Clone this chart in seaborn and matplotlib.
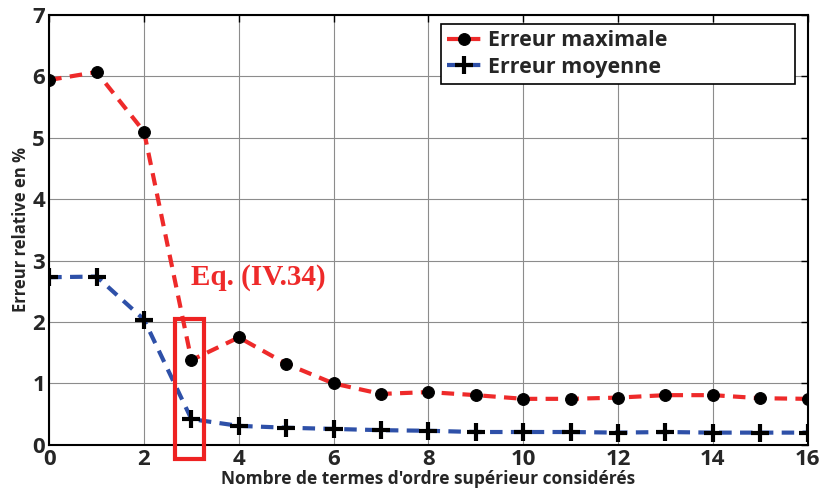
import matplotlib
matplotlib.use("Agg")
import matplotlib.pyplot as plt
import seaborn as sns
from matplotlib.patches import Rectangle

# Data
n_terms = list(range(17))
err_max = [5.94, 6.07, 5.10, 1.38, 1.75, 1.32, 1.00, 0.83, 0.86, 0.81,
           0.75, 0.75, 0.77, 0.81, 0.81, 0.76, 0.75]
err_moy = [2.73, 2.74, 2.04, 0.42, 0.31, 0.28, 0.26, 0.24, 0.23, 0.21,
           0.21, 0.21, 0.20, 0.21, 0.20, 0.20, 0.20]

sns.set_style("whitegrid")
plt.rcParams['font.family'] = ['Open Sans', 'DejaVu Sans']

fig = plt.figure(figsize=(8.2, 4.96), dpi=100)
ax = fig.add_axes([0.06, 0.103, 0.925, 0.867])

sns.lineplot(x=n_terms, y=err_max, ax=ax, color='#ee2a2a', lw=3,
             linestyle=(0, (3, 2)), marker='o', markersize=8.5,
             markerfacecolor='black', markeredgecolor='black',
             label='Erreur maximale')
sns.lineplot(x=n_terms, y=err_moy, ax=ax, color='#2e50a8', lw=3,
             linestyle=(0, (3, 2)), marker='+', markersize=13,
             markeredgewidth=3, markeredgecolor='black',
             label='Erreur moyenne')

ax.set_xlim(0, 16)
ax.set_ylim(0, 7)
ax.set_xticks(range(0, 17, 2))
ax.set_yticks(range(0, 8))
ax.grid(True, color='#8c8c8c', lw=0.8)
for s in ax.spines.values():
    s.set_color('black')
    s.set_linewidth(1.5)
ax.tick_params(direction='in', top=True, right=True, length=5, width=1,
               labelsize=16, color='black')
ax.tick_params(axis='x', pad=3)
ax.tick_params(axis='y', pad=3)
for lab in ax.get_xticklabels() + ax.get_yticklabels():
    lab.set_fontweight('bold')

ax.set_xlabel("Nombre de termes d'ordre supérieur considérés",
              fontsize=12.5, fontweight='bold', labelpad=0)
ax.set_ylabel("Erreur relative en %", fontsize=12, fontweight='bold', labelpad=2)

ax.add_patch(Rectangle((2.66, -0.23), 0.61, 2.28, fill=False,
                       edgecolor='#ee2222', lw=3, clip_on=False, zorder=5))
ax.text(3.0, 2.72, "Eq. (IV.34)", color='#ee2a2a', fontsize=21,
        fontweight='bold', family=['Liberation Serif', 'DejaVu Serif'],
        va='center', ha='left')

leg = ax.legend(loc='upper left', bbox_to_anchor=(0.516, 0.979, 0.467, 0),
                mode='expand', fontsize=15.5, frameon=True, fancybox=False,
                handlelength=1.6, handletextpad=0.3, borderpad=0.3,
                labelspacing=0.25, borderaxespad=0)
leg.get_frame().set_edgecolor('black')
leg.get_frame().set_linewidth(1.2)
leg.get_frame().set_alpha(1)
for t in leg.get_texts():
    t.set_fontweight('bold')

fig.savefig("out.png", dpi=100)
